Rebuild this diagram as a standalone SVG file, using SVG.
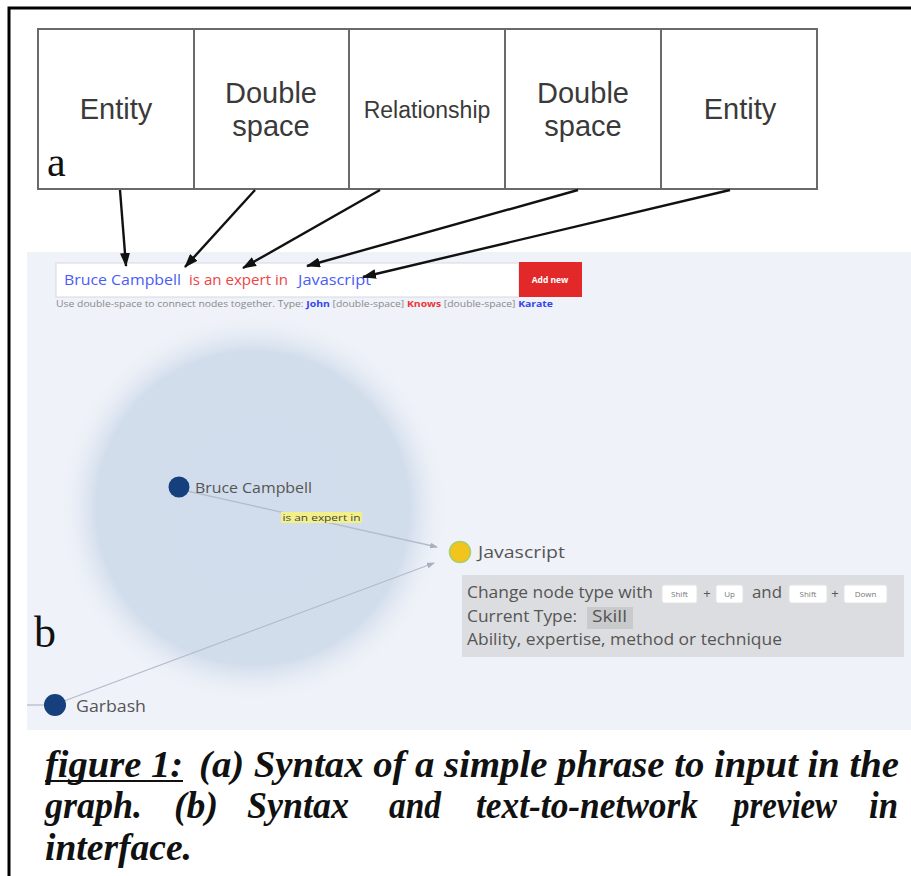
<svg xmlns="http://www.w3.org/2000/svg" width="911" height="876" viewBox="0 0 911 876">
<style>
.cell{fill:#fff;stroke:#6a6a6a;stroke-width:2}
.ct{font-family:"Liberation Sans",Arial,sans-serif;fill:#3a3a3a;text-anchor:middle}
.ser{font-family:"Liberation Serif","Times New Roman",serif;fill:#111}
.arr{stroke:#111;stroke-width:2.4;fill:none;marker-end:url(#ah)}
.edge{stroke:#b4bccb;stroke-width:1.3;fill:none;marker-end:url(#eh)}
.ui{font-family:"Open Sans","Noto Sans",sans-serif}
.lbl{font-family:"Open Sans","Noto Sans",sans-serif;fill:#555}
.key{fill:#fff;stroke:#e2e2e2;stroke-width:1}
.kt{font-family:"Open Sans","Noto Sans",sans-serif;font-size:8px;fill:#777;text-anchor:middle}
.cap{font-family:"Liberation Serif","Times New Roman",serif;font-weight:bold;font-style:italic;font-size:37px;fill:#111}
</style>
<defs>
<marker id="ah" viewBox="0 0 14 10" refX="13" refY="5" markerWidth="14" markerHeight="10" markerUnits="userSpaceOnUse" orient="auto">
<path d="M0,0 L14,5 L0,10 z" fill="#111"/>
</marker>
<marker id="eh" viewBox="0 0 8 6" refX="7" refY="3" markerWidth="8" markerHeight="6" markerUnits="userSpaceOnUse" orient="auto">
<path d="M0,0 L8,3 L0,6 z" fill="#a8b0c0"/>
</marker>
<radialGradient id="halo" cx="0.5" cy="0.5" r="0.5">
<stop offset="0" stop-color="#d1dcec"/>
<stop offset="0.8" stop-color="#d2ddec"/>
<stop offset="1" stop-color="#eff2f8" stop-opacity="0"/>
</radialGradient>
</defs>
<rect x="0" y="0" width="911" height="876" fill="#fff"/>
<!-- outer frame -->
<path d="M9,876 V8 H911" stroke="#000" stroke-width="3" fill="none"/>

<!-- panel a: syntax table -->
<g id="table">
<g id="cell-entity1"><rect class="cell" x="38" y="29" width="156" height="160"/><text class="ct" x="116" y="119" font-size="29">Entity</text></g>
<g id="cell-double1"><rect class="cell" x="194" y="29" width="155" height="160"/><text class="ct" x="271" y="103" font-size="29">Double</text><text class="ct" x="271" y="136" font-size="29">space</text></g>
<g id="cell-relationship"><rect class="cell" x="349" y="29" width="156" height="160"/><text class="ct" x="427" y="118" font-size="23">Relationship</text></g>
<g id="cell-double2"><rect class="cell" x="505" y="29" width="156" height="160"/><text class="ct" x="583" y="103" font-size="29">Double</text><text class="ct" x="583" y="136" font-size="29">space</text></g>
<g id="cell-entity2"><rect class="cell" x="661" y="29" width="156" height="160"/><text class="ct" x="740" y="119" font-size="29">Entity</text></g>
<text class="ser" x="47" y="176" font-size="42">a</text>
</g>

<!-- panel b background -->
<rect x="27" y="252" width="884" height="478" fill="#eff2f8"/>
<circle cx="253" cy="508" r="196" fill="url(#halo)"/>

<!-- input bar -->
<g id="input">
<rect x="56" y="263" width="463" height="34" fill="#fff" stroke="#d5d8de" stroke-width="1"/>
<text class="ui" x="64" y="285" font-size="14.5" fill="#4a5cf5" textLength="117" lengthAdjust="spacingAndGlyphs">Bruce Campbell</text>
<text class="ui" x="189" y="285" font-size="14.5" fill="#ee4444" textLength="99" lengthAdjust="spacingAndGlyphs">is an expert in</text>
<text class="ui" x="298" y="285" font-size="14.5" fill="#4a5cf5" textLength="73" lengthAdjust="spacingAndGlyphs">Javascript</text>
<g id="add-new"><rect x="519" y="262" width="63" height="35" fill="#e3282a"/><text class="ui" x="550" y="283" font-size="8.5" font-weight="bold" fill="#fff" text-anchor="middle">Add new</text></g>
<text class="ui" x="56" y="307" font-size="8.5" fill="#8a8a8a" textLength="497" lengthAdjust="spacingAndGlyphs">Use double-space to connect nodes together. Type: <tspan fill="#3344ee" font-weight="bold">John</tspan> [double-space] <tspan fill="#ee3333" font-weight="bold">Knows</tspan> [double-space] <tspan fill="#3344ee" font-weight="bold">Karate</tspan></text>
</g>

<!-- connectors -->
<g id="connectors">
<line class="arr" x1="120" y1="190" x2="126" y2="266"/>
<line class="arr" x1="255" y1="190" x2="185" y2="267"/>
<line class="arr" x1="380" y1="190" x2="243" y2="268"/>
<line class="arr" x1="578" y1="190" x2="307" y2="266"/>
<line class="arr" x1="730" y1="190" x2="363" y2="277"/>
<line class="edge" x1="187" y1="491" x2="437" y2="547"/>
<line class="edge" x1="64" y1="701" x2="434" y2="563"/>
<line x1="27" y1="705" x2="44" y2="705" stroke="#b4bccb" stroke-width="1.3"/>
<g id="edge-label"><rect x="281" y="512" width="81" height="11" fill="#f3f08a"/><text class="ui" x="321.5" y="521" font-size="9.5" fill="#444" text-anchor="middle" textLength="78" lengthAdjust="spacingAndGlyphs">is an expert in</text></g>
</g>

<!-- graph nodes -->
<g id="node-bruce"><circle cx="179" cy="487" r="10.5" fill="#163f7d"/><text class="lbl" x="195" y="493" font-size="15" textLength="117" lengthAdjust="spacingAndGlyphs">Bruce Campbell</text></g>
<g id="node-javascript"><circle cx="460" cy="552" r="10.5" fill="#f2c41c" stroke="#a9cf6a" stroke-width="1.5"/><text class="lbl" x="478" y="558" font-size="17" fill="#484848" textLength="87" lengthAdjust="spacingAndGlyphs">Javascript</text></g>
<g id="node-garbash"><circle cx="55" cy="705" r="11" fill="#163f7d"/><text class="lbl" x="76" y="712" font-size="16" textLength="70" lengthAdjust="spacingAndGlyphs">Garbash</text></g>

<!-- info box -->
<g id="info">
<rect x="462" y="575" width="442" height="82" fill="#dcdde0"/>
<text class="lbl" x="467" y="598" font-size="16" textLength="186" lengthAdjust="spacingAndGlyphs">Change node type with</text>
<rect class="key" x="662" y="585" width="35" height="18" rx="2"/><text class="kt" x="679.5" y="597">Shift</text>
<text class="lbl" x="707" y="598" font-size="13" text-anchor="middle">+</text>
<rect class="key" x="716" y="585" width="27" height="18" rx="2"/><text class="kt" x="729.5" y="597">Up</text>
<text class="lbl" x="752" y="598" font-size="16" textLength="30" lengthAdjust="spacingAndGlyphs">and</text>
<rect class="key" x="789" y="585" width="38" height="18" rx="2"/><text class="kt" x="808" y="597">Shift</text>
<text class="lbl" x="835" y="598" font-size="13" text-anchor="middle">+</text>
<rect class="key" x="844" y="585" width="43" height="18" rx="2"/><text class="kt" x="865.5" y="597">Down</text>
<text class="lbl" x="467" y="622" font-size="16" textLength="110" lengthAdjust="spacingAndGlyphs">Current Type:</text>
<rect x="587" y="607" width="46" height="22" fill="#c9cacc"/>
<text class="lbl" x="592" y="622" font-size="16" textLength="35" lengthAdjust="spacingAndGlyphs">Skill</text>
<text class="lbl" x="467" y="645" font-size="16" textLength="315" lengthAdjust="spacingAndGlyphs">Ability, expertise, method or technique</text>
</g>
<text class="ser" x="34" y="647" font-size="44">b</text>

<!-- caption -->
<g id="caption">
<text class="cap" x="45" y="777" textLength="138" lengthAdjust="spacingAndGlyphs">figure 1:</text>
<line x1="45" y1="781" x2="183" y2="781" stroke="#111" stroke-width="2"/>
<text class="cap" x="199" y="777" textLength="700" lengthAdjust="spacingAndGlyphs">(a) Syntax of a simple phrase to input in the</text>
<text class="cap" x="45" y="818" textLength="97" lengthAdjust="spacingAndGlyphs">graph.</text>
<text class="cap" x="174" y="818" textLength="44" lengthAdjust="spacingAndGlyphs">(b)</text>
<text class="cap" x="247" y="818" textLength="102" lengthAdjust="spacingAndGlyphs">Syntax</text>
<text class="cap" x="389" y="818" textLength="52" lengthAdjust="spacingAndGlyphs">and</text>
<text class="cap" x="476" y="818" textLength="222" lengthAdjust="spacingAndGlyphs">text-to-network</text>
<text class="cap" x="733" y="818" textLength="104" lengthAdjust="spacingAndGlyphs">preview</text>
<text class="cap" x="869" y="818" textLength="29" lengthAdjust="spacingAndGlyphs">in</text>
<text class="cap" x="45" y="860" textLength="147" lengthAdjust="spacingAndGlyphs">interface.</text>
</g>
</svg>
